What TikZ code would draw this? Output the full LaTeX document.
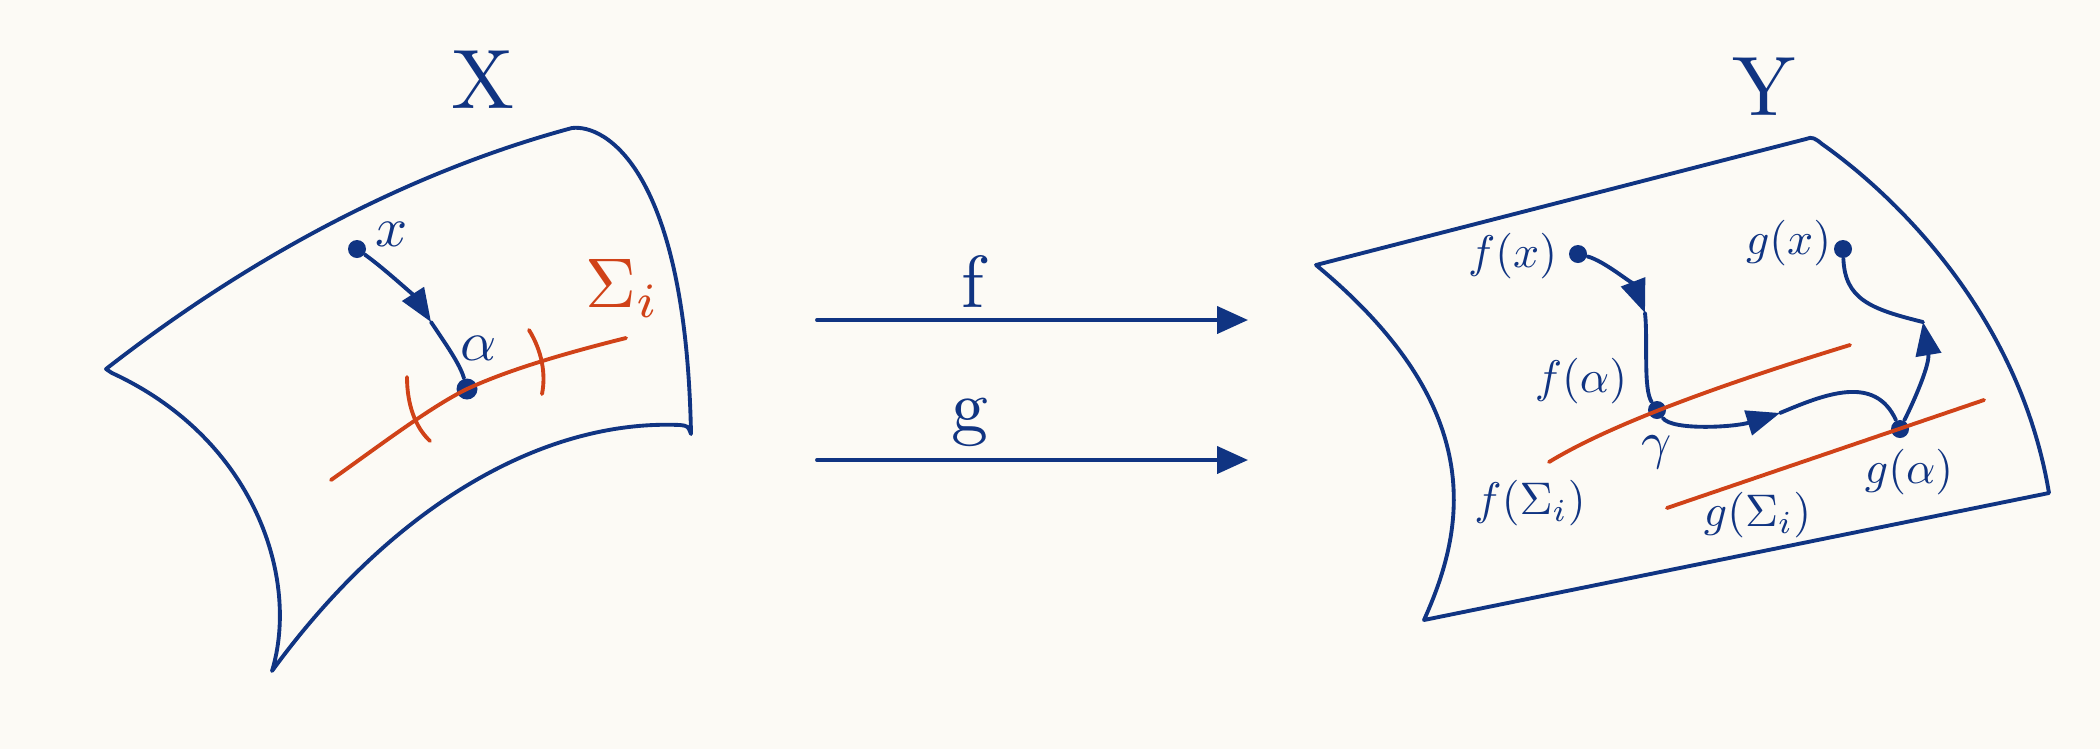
\documentclass[tikz,border=0pt]{standalone}
\usepackage{amsmath,amssymb}
\usetikzlibrary{arrows.meta}
\definecolor{ink}{RGB}{16,52,130}
\definecolor{rust}{RGB}{208,66,24}
\definecolor{paper}{RGB}{252,250,245}

\begin{document}
\begin{tikzpicture}[line cap=round,line join=round,>={Triangle[length=8.8pt,width=7.7pt]},x=1.0cm,y=1.0cm,
	sheet/.style={ink,line width=1.1pt},
	trace/.style={rust,line width=1.1pt},
	spot/.style={circle,fill=ink,inner sep=0pt,minimum size=0.18cm},
	lab/.style={ink,inner sep=0pt,scale=1.3},
	tip/.style={-{Triangle[length=9.5pt,width=7.2pt]}}]
	\fill[paper] (0,0) rectangle (21,7.49);
	% sheet X
	\draw[sheet] (1.06,3.80) .. controls (2.6,5.0) and (4.2,5.8) .. (5.72,6.21)
		.. controls (6.05,6.25) and (6.86,5.8) .. (6.91,3.15)
		.. controls (6.88,3.23) .. (6.80,3.24)
		.. controls (5.4,3.3) and (3.9,2.4) .. (2.72,0.78)
		.. controls (3.0,1.7) and (2.55,3.1) .. (1.12,3.76) -- cycle;
	\node[ink,inner sep=0pt,scale=2.4] (labX) at (4.83,6.69) {X};
	\node[spot] (xpt) at (3.57,5.00) {};
	\node[spot,minimum size=0.21cm] (apt) at (4.67,3.60) {};
	\draw[trace] (3.31,2.69) .. controls (3.75,3.0) and (4.3,3.42) .. (apt.center)
		.. controls (5.1,3.80) and (5.7,3.97) .. (6.26,4.11);
	\draw[trace] (4.07,3.72) .. controls (4.07,3.45) and (4.15,3.22) .. (4.30,3.08);
	\draw[trace] (5.29,4.19) .. controls (5.42,3.98) and (5.46,3.75) .. (5.42,3.55);
	\coordinate (xk) at (4.31,4.27);
	\draw[sheet,tip] (xpt) .. controls (3.85,4.80) and (4.15,4.52) .. (xk);
	\draw[sheet] (xk) .. controls (4.45,4.06) and (4.6,3.85) .. (apt);
	\node[lab,scale=1.6/1.3] (xl) at (3.92,5.15) {$x$};
	\node[lab,scale=1.6/1.3] (al) at (4.79,4.01) {$\alpha$};
	\node[rust,inner sep=0pt,anchor=base west,scale=2.0] (sigl) at (5.84,4.42) {$\Sigma_i$};
	% maps f and g
	\coordinate (fs) at (8.17,4.29);
	\coordinate (fe) at (12.48,4.29);
	\coordinate (gs) at (8.17,2.89);
	\coordinate (ge) at (12.48,2.89);
	\draw[sheet,->] (fs) -- (fe);
	\draw[sheet,->] (gs) -- (ge);
	\node[ink,inner sep=0pt,anchor=base,scale=2.1] (fl) at (9.73,4.42) {f};
	\node[ink,inner sep=0pt,anchor=base,scale=2.1] (gl) at (9.70,3.18) {g};
	% sheet Y
	\draw[sheet] (13.16,4.84) -- (18.06,6.10) .. controls (18.12,6.13) and (18.16,6.10) .. (18.22,6.05)
		.. controls (19.0,5.5) and (20.2,4.3) .. (20.49,2.56) -- (14.24,1.29)
		.. controls (14.65,2.2) and (14.9,3.4) .. (13.16,4.84) -- cycle;
	\node[ink,inner sep=0pt,scale=2.4] (labY) at (17.64,6.62) {Y};
	\node[spot] (fxpt) at (15.78,4.95) {};
	\node[spot] (gam) at (16.57,3.39) {};
	\node[spot] (gxpt) at (18.43,5.00) {};
	\node[spot] (gapt) at (19.00,3.20) {};
	\draw[trace] (15.49,2.87) .. controls (16.0,3.18) and (16.9,3.55) .. (18.50,4.04);
	\draw[trace] (16.67,2.41) -- (19.84,3.49);
	\coordinate (fk) at (16.45,4.36);
	\coordinate (mk) at (17.80,3.36);
	\coordinate (gk) at (19.23,4.27);
	\draw[sheet,tip] (fxpt) .. controls (16.05,4.88) and (16.35,4.62) .. (fk);
	\draw[sheet] (fk) .. controls (16.48,4.1) and (16.43,3.6) .. (gam);
	\draw[sheet,tip] (gam) .. controls (16.72,3.18) and (17.35,3.22) .. (mk);
	\draw[sheet] (mk) .. controls (18.25,3.55) and (18.75,3.75) .. (gapt);
	\draw[sheet,tip] (gapt) .. controls (19.15,3.5) and (19.3,3.85) .. (gk);
	\draw[sheet] (gk) .. controls (18.7,4.4) and (18.45,4.5) .. (gxpt);
	\node[lab,anchor=east] (fxl) at (15.58,4.93) {$f(x)$};
	\node[lab,anchor=east] (fal) at (16.28,3.68) {$f(\alpha)$};
	\node[lab,anchor=north,scale=1.5/1.3] (gaml) at (16.57,3.14) {$\gamma$};
	\node[lab] (fsl) at (15.30,2.46) {$f(\Sigma_i)$};
	\node[lab,anchor=east] (gsl) at (18.12,2.34) {$g(\Sigma_i)$};
	\node[lab] (gal) at (19.09,2.77) {$g(\alpha)$};
	\node[lab,anchor=east] (gxl) at (18.32,5.06) {$g(x)$};
\end{tikzpicture}
\end{document}
